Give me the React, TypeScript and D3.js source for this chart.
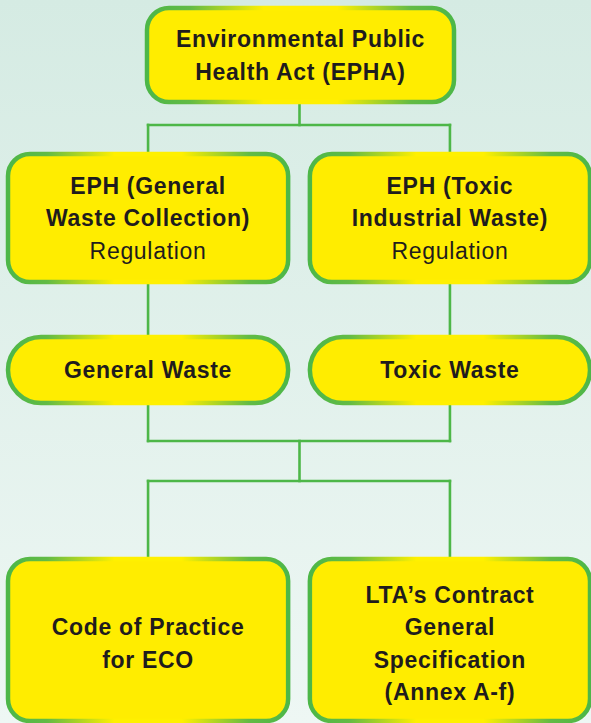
import React, { useRef, useEffect } from 'react';
import * as d3 from 'd3';

// Labels by level (bold lines, then regular lines)
const topLabel = ['Environmental Public', 'Health Act (EPHA)'];
const regulationLabels = [
  ['EPH (General', 'Waste Collection)'],
  ['EPH (Toxic', 'Industrial Waste)'],
];
const regulationSuffix = 'Regulation';
const wasteLabels = ['General Waste', 'Toxic Waste'];
const practiceLabels = [
  ['Code of Practice', 'for ECO'],
  ['LTA\u2019s Contract', 'General', 'Specification', '(Annex A-f)'],
];
const columns = ['left', 'right'];

const App = () => {
  const ref = useRef<SVGSVGElement | null>(null);

  useEffect(() => {
    const W = 591;
    const H = 723;
    const svg = d3.select(ref.current);
    svg.selectAll('*').remove();

    const green = '#4db748';
    const yellow = '#ffed00';
    const ink = '#1f1c1d';
    const font = '"Liberation Sans", Arial, Helvetica, sans-serif';
    const lineH = 32.5;

    const defs = svg.append('defs');
    const bg = defs.append('linearGradient').attr('id', 'bg').attr('x1', 0).attr('x2', 0).attr('y1', 0).attr('y2', 1);
    bg.append('stop').attr('offset', 0).attr('stop-color', '#d5ebe3');
    bg.append('stop').attr('offset', 1).attr('stop-color', '#eef7f4');

    const edge = defs.append('linearGradient').attr('id', 'edge').attr('x1', 0).attr('x2', 1).attr('y1', 0).attr('y2', 0);
    [
      [0, '#4db748'], [0.14, '#62bb45'], [0.38, '#fff000'],
      [0.62, '#fff000'], [0.86, '#62bb45'], [1, '#4db748'],
    ].forEach(([o, c]) => edge.append('stop').attr('offset', o).attr('stop-color', c));

    svg.append('rect').attr('width', W).attr('height', H).attr('fill', 'url(#bg)');

    // column layout
    const x = d3.scaleBand().domain(columns).range([8, 590]).paddingInner(0.072);
    const cx = (c: string) => (x(c) as number) + x.bandwidth() / 2;
    const mid = W / 2 + 4;

    // row layout
    const rows = {
      top: { y0: 8, y1: 102, r: 22 },
      reg: { y0: 154, y1: 282, r: 22 },
      waste: { y0: 337, y1: 403, r: 33 },
      code: { y0: 559, y1: 721, r: 22 },
    };
    const busA = 125;
    const busB = 441;
    const busC = 481;

    // connectors
    const line = d3.line();
    const links: [number, number][][] = [
      [[mid, rows.top.y1], [mid, busA]],
      [[cx('left'), busA], [cx('right'), busA]],
      ...columns.map(c => [[cx(c), busA], [cx(c), rows.reg.y0]] as [number, number][]),
      ...columns.map(c => [[cx(c), rows.reg.y1], [cx(c), rows.waste.y0]] as [number, number][]),
      ...columns.map(c => [[cx(c), rows.waste.y1], [cx(c), busB]] as [number, number][]),
      [[cx('left'), busB], [cx('right'), busB]],
      [[mid, busB], [mid, busC]],
      [[cx('left'), busC], [cx('right'), busC]],
      ...columns.map(c => [[cx(c), busC], [cx(c), rows.code.y0]] as [number, number][]),
    ];
    svg.append('g').selectAll('path').data(links).enter().append('path')
      .attr('d', d => line(d))
      .attr('fill', 'none')
      .attr('stroke', green)
      .attr('stroke-width', 2.6)
      .attr('stroke-linecap', 'square');

    const box = (x0: number, w: number, row: { y0: number; y1: number; r: number }, bold: string[], regular: string[] = [], dy = 0) => {
      const g = svg.append('g');
      g.append('rect')
        .attr('x', x0).attr('y', row.y0)
        .attr('width', w).attr('height', row.y1 - row.y0)
        .attr('rx', row.r).attr('ry', row.r)
        .attr('fill', yellow)
        .attr('stroke', 'url(#edge)')
        .attr('stroke-width', 4.5);
      const lines = [...bold.map(t => ({ t, b: true })), ...regular.map(t => ({ t, b: false }))];
      const cy = (row.y0 + row.y1) / 2 + dy;
      const start = cy - ((lines.length - 1) * lineH) / 2;
      g.selectAll('text').data(lines).enter().append('text')
        .attr('x', x0 + w / 2)
        .attr('y', (_, i) => start + i * lineH)
        .attr('dy', '0.36em')
        .attr('text-anchor', 'middle')
        .attr('font-family', font)
        .attr('font-size', 23)
        .attr('letter-spacing', 0.7)
        .attr('font-weight', d => (d.b ? 'bold' : 'normal'))
        .attr('fill', ink)
        .text(d => d.t);
    };

    box(147, 307, rows.top, topLabel);
    columns.forEach((c, i) => {
      box(x(c) as number, x.bandwidth(), rows.reg, regulationLabels[i], [regulationSuffix]);
      box(x(c) as number, x.bandwidth(), rows.waste, [wasteLabels[i]]);
      box(x(c) as number, x.bandwidth(), rows.code, practiceLabels[i], [], 3);
    });
  }, []);

  return (
    <svg
      ref={ref}
      width={591}
      height={723}
      style={{ position: 'fixed', left: 0, top: 0, display: 'block' }}
    />
  );
};

export default App;
